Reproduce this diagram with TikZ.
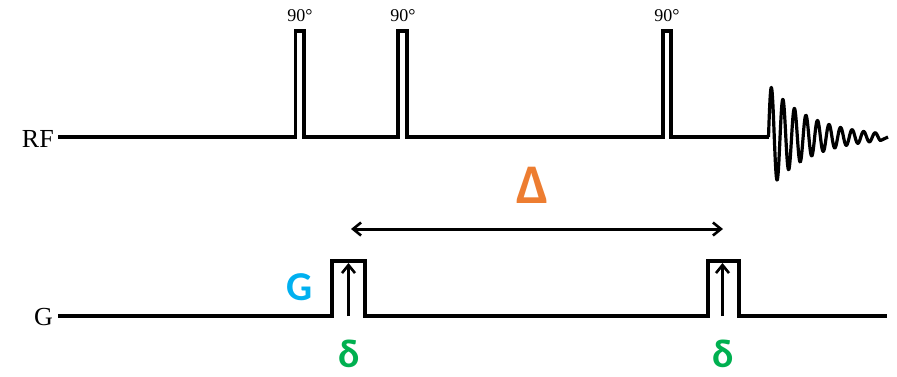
\documentclass[tikz,border=0pt]{standalone}
\usepackage{fontspec}
\setmainfont{Liberation Serif}
\newfontfamily\calfont{Carlito}
\usetikzlibrary{arrows.meta}
\definecolor{gblue}{RGB}{0,176,240}
\definecolor{dgreen}{RGB}{0,176,80}
\definecolor{dorange}{RGB}{237,125,49}
\begin{document}
\begin{tikzpicture}[x=1pt,y=-1pt,
  wave/.style={line width=3.8pt, line join=miter, black},
  fid/.style={line width=3.2pt, line join=round, black},
  axislabel/.style={font=\fontsize{26}{26}\selectfont, anchor=base east, inner sep=0pt},
  anglelabel/.style={font=\fontsize{18}{18}\selectfont, anchor=base, inner sep=0pt},
  arr/.style={line width=3pt, -{Straight Barb[length=8pt,width=13pt,line width=2.6pt]}},
  darr/.style={line width=3pt, {Straight Barb[length=8pt,width=13pt,line width=2.6pt]}-{Straight Barb[length=8pt,width=13pt,line width=2.6pt]}},
  gtext/.style={font=\calfont\bfseries\fontsize{41}{41}\selectfont, text=gblue, anchor=base, inner sep=0pt},
  deltasmall/.style={font=\calfont\bfseries\fontsize{40}{40}\selectfont, text=dgreen, anchor=base, inner sep=0pt},
  deltabig/.style={font=\calfont\bfseries\fontsize{56}{56}\selectfont, text=dorange, anchor=base, inner sep=0pt}]
\useasboundingbox (0,0) rectangle (897,376);

% channel labels
\node[axislabel] (rf) at (54,147) {RF};
\node[axislabel] (g) at (53,325) {G};

% RF channel: three 90-degree pulses
\draw[wave] (rf.east |- 0,137) ++(4,0) -- (295.5,137) -- (295.5,31) -- (304,31) -- (304,137)
  -- (398,137) -- (398,31) -- (407,31) -- (407,137)
  -- (663,137) -- (663,31) -- (671,31) -- (671,137)
  -- (768.5,137);
% decaying signal after the last pulse
\draw[fid] (768.5,137)
  -- plot[domain=0:112, samples=400] ({768.5+\x}, {137 - 53*exp(-\x/42)*sin(\x*31.2)})
  -- (888,137);

\node[anglelabel] (p1) at (300,21) {90°};
\node[anglelabel] (p2) at (403,21) {90°};
\node[anglelabel] (p3) at (667,21) {90°};

% gradient channel: two gradient pulses
\draw[wave] (g.east |- 0,316) ++(5,0) -- (332,316) -- (332,261) -- (365,261) -- (365,316)
  -- (708,316) -- (708,261) -- (739,261) -- (739,316) -- (887,316);

% pulse duration arrows
\coordinate (d1a) at (348.5,316);
\coordinate (d1b) at (348.5,263);
\coordinate (d2a) at (722.5,316);
\coordinate (d2b) at (722.5,263);
\draw[arr] (d1a) -- (d1b);
\draw[arr] (d2a) -- (d2b);

% diffusion time arrow
\coordinate (bigL) at (351,229);
\coordinate (bigR) at (723,229);
\draw[darr] (bigL) -- (bigR);

% annotations
\node[gtext] (gl) at (300,300) {G};
\node[deltabig] (dbig) at (532.5,203) {Δ};
\node[deltasmall] (ds1) at (349,367) {δ};
\node[deltasmall] (ds2) at (723,367) {δ};
\end{tikzpicture}
\end{document}
